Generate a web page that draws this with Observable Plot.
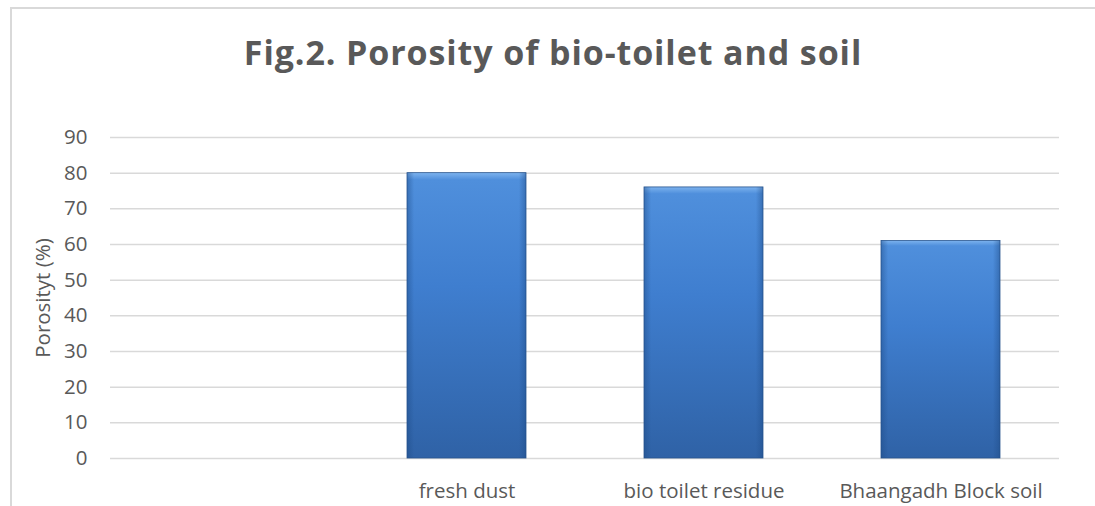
<!DOCTYPE html>
<html>
<head>
<meta charset="utf-8">
<script src="https://cdn.jsdelivr.net/npm/d3@7"></script>
<script src="https://cdn.jsdelivr.net/npm/@observablehq/plot@0.6"></script>
<style>
  html, body { margin: 0; padding: 0; background: #fff; }
  #page { position: relative; width: 1095px; height: 506px; overflow: hidden; background: #fff; }
  #frame { position: absolute; left: 10px; top: 7px; width: 1100px; height: 520px;
           border-top: 2px solid #d9d9d9; border-left: 2px solid #d9d9d9; }
  #title { position: absolute; left: 0; top: 32px; width: 1106px; text-align: center;
           font-family: "Open Sans", sans-serif; font-weight: bold; font-size: 34px; color: #595959;
           letter-spacing: 0.9px; line-height: 1.2; }
  #chart { position: absolute; left: 0; top: 110px; }
</style>
</head>
<body>
<div id="page">
  <div id="frame"></div>
  <div id="title">Fig.2. Porosity of bio-toilet and soil</div>
  <div id="chart"></div>
</div>
<script>
const categories = ["", "fresh dust", "bio toilet residue", "Bhaangadh Block soil"];
const porosity = [null, 80, 76, 61];
const yTicks = [0, 10, 20, 30, 40, 50, 60, 70, 80, 90];
const yLabel = "Porosityt (%)";

const rows = categories.map((c, i) => ({category: c, value: porosity[i]}));
const bars = rows.filter(d => d.value != null);

const plot = Plot.plot({
  width: 1095,
  height: 396,
  marginTop: 27,
  marginBottom: 48,
  marginLeft: 110,
  marginRight: 36,
  style: { fontFamily: "'Open Sans', sans-serif", fontSize: "20.5px", color: "#595959", background: "transparent" },
  x: { domain: categories, paddingInner: 0.5, paddingOuter: 0.25, label: null },
  y: { domain: [0, 90], label: null },
  marks: [
    () => {
      const svg = d3.create("svg:defs");
      const v = svg.append("linearGradient").attr("id", "barV").attr("x1", 0).attr("y1", 0).attr("x2", 0).attr("y2", 1);
      v.append("stop").attr("offset", "0%").attr("stop-color", "#7db3ee");
      v.append("stop").attr("offset", "2.5%").attr("stop-color", "#4f8fdc");
      v.append("stop").attr("offset", "40%").attr("stop-color", "#3f7ecf");
      v.append("stop").attr("offset", "100%").attr("stop-color", "#2f62a6");
      const h = svg.append("linearGradient").attr("id", "barH").attr("x1", 0).attr("y1", 0).attr("x2", 1).attr("y2", 0);
      h.append("stop").attr("offset", "0%").attr("stop-color", "#1d4a85").attr("stop-opacity", 0.45);
      h.append("stop").attr("offset", "6%").attr("stop-color", "#1d4a85").attr("stop-opacity", 0);
      h.append("stop").attr("offset", "94%").attr("stop-color", "#1d4a85").attr("stop-opacity", 0);
      h.append("stop").attr("offset", "100%").attr("stop-color", "#1d4a85").attr("stop-opacity", 0.45);
      return svg.node();
    },
    Plot.ruleY(yTicks, { stroke: "#d9d9d9", strokeWidth: 1.5 }),
    Plot.barY(bars, { x: "category", y: "value", fill: "url(#barV)", stroke: "#2a568f", strokeWidth: 0.8 }),
    Plot.barY(bars, { x: "category", y: "value", fill: "url(#barH)" }),
    Plot.axisY({ ticks: yTicks, tickSize: 0, tickPadding: 23, label: null, fill: "#595959", fontSize: 20.5 }),
    Plot.axisX({ tickSize: 0, tickPadding: 25, label: null, fill: "#595959", fontSize: 20.5 }),
    Plot.text([yLabel], { frameAnchor: "left", textAnchor: "middle", rotate: -90, dx: -67, fill: "#595959", fontSize: 20.5 })
  ]
});
document.getElementById("chart").appendChild(plot);
</script>
</body>
</html>
